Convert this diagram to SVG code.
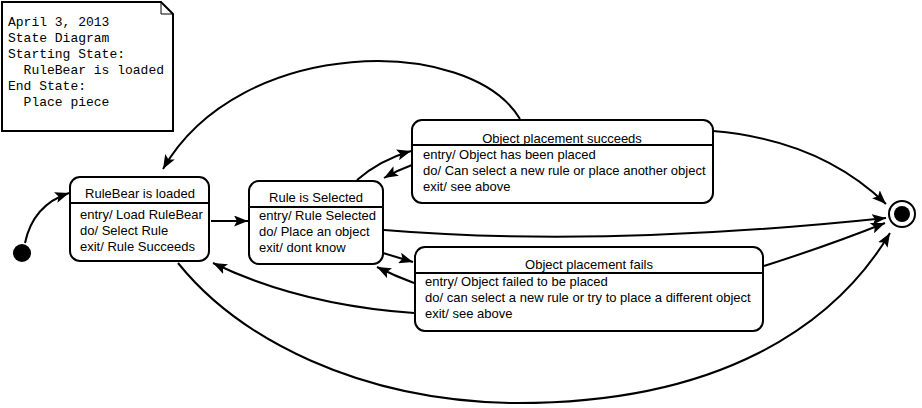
<svg xmlns="http://www.w3.org/2000/svg" width="922" height="408" viewBox="0 0 922 408">
<defs>
<style>
.box{fill:#fff;stroke:#000;stroke-width:2}
.div{stroke:#000;stroke-width:2}
.t{font-family:"Liberation Sans",Arial,sans-serif;font-size:13px;fill:#000}
.m{font-family:"Liberation Mono","Courier New",monospace;font-size:13px;fill:#000}
.c{fill:none;stroke:#000;stroke-width:2;marker-end:url(#arr)}
</style>
<marker id="arr" viewBox="0 0 14 11" refX="14" refY="5.5" markerWidth="14" markerHeight="11" markerUnits="userSpaceOnUse" orient="auto">
<path d="M0,0 L14,5.5 L0,11 L3,5.5 z" fill="#000"/>
</marker>
</defs>
<rect width="922" height="408" fill="#fff"/>
<g id="note">
<path d="M2,2 H161 L173,14 V131 H2 Z" fill="#fff" stroke="#000" stroke-width="2"/>
<path d="M161,2 V14 H173" fill="none" stroke="#000" stroke-width="1"/>
<text class="m" x="8" y="26">April 3, 2013</text>
<text class="m" x="8" y="42">State Diagram</text>
<text class="m" x="8" y="58">Starting State:</text>
<text class="m" x="23.6" y="74">RuleBear is loaded</text>
<text class="m" x="8" y="90">End State:</text>
<text class="m" x="23.6" y="106">Place piece</text>
</g>
<g id="start">
<circle cx="22" cy="253" r="9" fill="#000"/>
</g>
<g id="end">
<circle cx="902" cy="214" r="13" fill="#fff" stroke="#000" stroke-width="2"/>
<circle cx="902" cy="214" r="8" fill="#000"/>
</g>
<g id="rulebear">
<rect class="box" x="70" y="177" width="139" height="84" rx="10"/>
<line class="div" x1="70" y1="203" x2="209" y2="203"/>
<text class="t" x="140" y="198" text-anchor="middle">RuleBear is loaded</text>
<text class="t" x="80" y="219">entry/ Load RuleBear</text>
<text class="t" x="80" y="235">do/ Select Rule</text>
<text class="t" x="80" y="251">exit/ Rule Succeeds</text>
</g>
<g id="ruleselected">
<rect class="box" x="249" y="181" width="134" height="83" rx="10"/>
<line class="div" x1="249" y1="207" x2="383" y2="207"/>
<text class="t" x="316" y="202" text-anchor="middle">Rule is Selected</text>
<text class="t" x="259" y="220">entry/ Rule Selected</text>
<text class="t" x="259" y="236">do/ Place an object</text>
<text class="t" x="259" y="252">exit/ dont know</text>
</g>
<g id="succeeds">
<rect class="box" x="412" y="120" width="301" height="83" rx="10"/>
<line class="div" x1="412" y1="145" x2="713" y2="145"/>
<text class="t" x="562" y="143" text-anchor="middle">Object placement succeeds</text>
<text class="t" x="423" y="159">entry/ Object has been placed</text>
<text class="t" x="423" y="175">do/ Can select a new rule or place another object</text>
<text class="t" x="423" y="191">exit/ see above</text>
</g>
<g id="fails">
<rect class="box" x="415" y="247" width="348" height="84" rx="10"/>
<line class="div" x1="415" y1="273" x2="763" y2="273"/>
<text class="t" x="589" y="269" text-anchor="middle">Object placement fails</text>
<text class="t" x="425" y="286">entry/ Object failed to be placed</text>
<text class="t" x="425" y="302">do/ can select a new rule or try to place a different object</text>
<text class="t" x="425" y="318">exit/ see above</text>
</g>
<g id="connectors">
<path class="c" d="M25,243 Q33,205 69,193"/>
<path class="c" d="M211,221 L248,221"/>
<path class="c" d="M357,180 Q380,160 411,151"/>
<path class="c" d="M412,165 Q398,170 384,178"/>
<path class="c" d="M520,119 C470,35 240,35 163,169"/>
<path class="c" d="M713,131 Q820,140 886,204"/>
<path class="c" d="M384,230 Q600,248 886,218"/>
<path class="c" d="M764,266 Q830,245 885,223"/>
<path class="c" d="M178,263 C240,340 360,400 510,403 C720,405 835,325 890,233"/>
<path class="c" d="M383,253 L413,262"/>
<path class="c" d="M414,283 Q395,276 377,267"/>
<path class="c" d="M414,313 Q300,305 213,263"/>
</g>
</svg>
